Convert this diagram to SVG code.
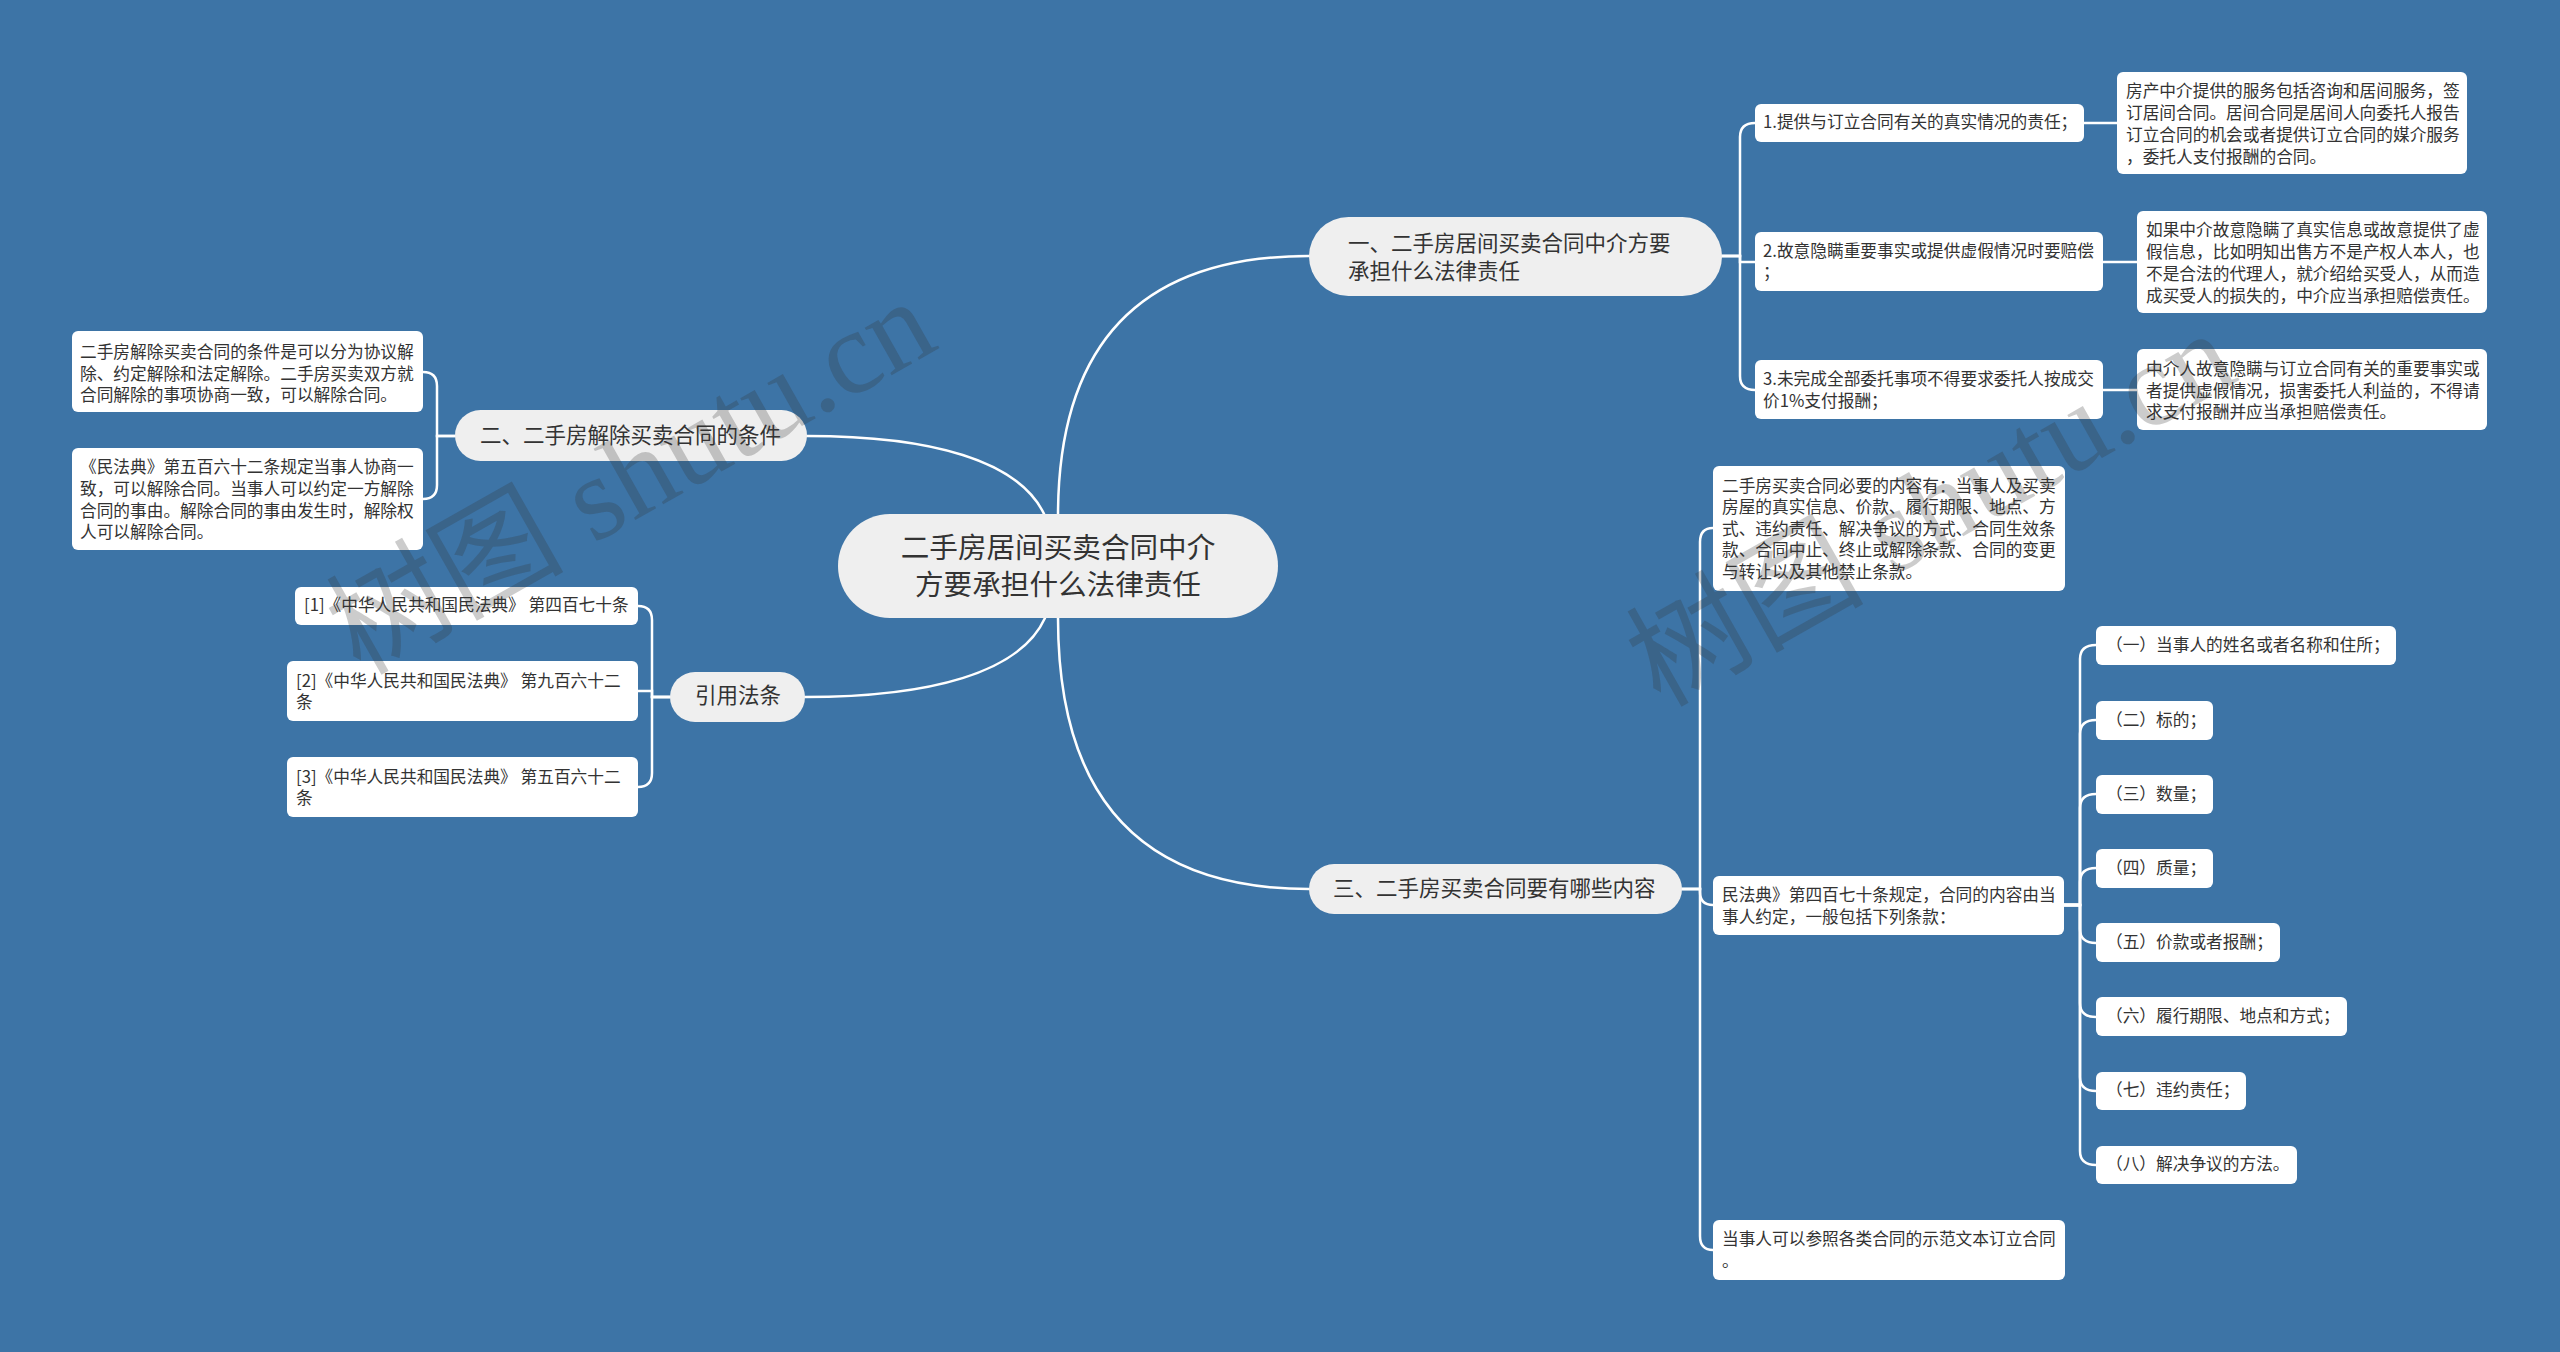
<svg xmlns="http://www.w3.org/2000/svg" width="2560" height="1352" viewBox="0 0 2560 1352">
<style>
  .t { font-family: "Noto Sans CJK SC", "Noto Sans", sans-serif; fill: #333333; dominant-baseline: central; }
  .leaf { fill: #ffffff; }
  .main { fill: #efefef; }
  .s { font-size: 16.7px; }
  .m { font-size: 21.5px; }
  .c { font-size: 28.6px; }
  .wm { font-family: "Liberation Serif", "Noto Sans CJK SC", serif; font-size: 119px; fill: #333333; fill-opacity: 0.25; }
  .ln { fill: none; stroke: #ffffff; stroke-width: 2.5; stroke-linecap: round; }
</style>
<rect x="0" y="0" width="2560" height="1352" fill="#3d74a6"/>

<g id="connectors">
  <path class="ln" d="M 1058 516 Q 1058 256 1309 256"/>
  <path class="ln" d="M 1045 516 C 1020 460 930 436 807 436"/>
  <path class="ln" d="M 1045 618 C 1020 673 930 697 805 697"/>
  <path class="ln" d="M 1058 618 Q 1058 889 1309 889"/>
  <path class="ln" d="M 1722 256 H 1740 V 137 Q 1740 123 1755 123"/>
  <path class="ln" d="M 1722 256 H 1740 V 262 H 1755"/>
  <path class="ln" d="M 1722 256 H 1740 V 376 Q 1740 390 1755 390"/>
  <path class="ln" d="M 2084 123 H 2117"/>
  <path class="ln" d="M 2103 262 H 2137"/>
  <path class="ln" d="M 2103 390 H 2137"/>
  <path class="ln" d="M 455 436 H 437 V 386 Q 437 372 423 372"/>
  <path class="ln" d="M 455 436 H 437 V 485 Q 437 499 423 499"/>
  <path class="ln" d="M 670 697 H 652 V 620 Q 652 606 638 606"/>
  <path class="ln" d="M 670 697 H 652 V 691 H 638"/>
  <path class="ln" d="M 670 697 H 652 V 773 Q 652 787 638 787"/>
  <path class="ln" d="M 1682 889 H 1700 V 542 Q 1700 528 1713 528"/>
  <path class="ln" d="M 1682 889 H 1700 V 892 Q 1700 905 1713 905"/>
  <path class="ln" d="M 1682 889 H 1700 V 1236 Q 1700 1250 1713 1250"/>
  <path class="ln" d="M 2064 905 H 2080 V 659 Q 2080 645 2096 645"/>
  <path class="ln" d="M 2064 905 H 2080 V 734 Q 2080 720 2096 720"/>
  <path class="ln" d="M 2064 905 H 2080 V 808 Q 2080 794 2096 794"/>
  <path class="ln" d="M 2064 905 H 2080 V 882 Q 2080 868 2096 868"/>
  <path class="ln" d="M 2064 905 H 2080 V 929 Q 2080 943 2096 943"/>
  <path class="ln" d="M 2064 905 H 2080 V 1003 Q 2080 1017 2096 1017"/>
  <path class="ln" d="M 2064 905 H 2080 V 1077 Q 2080 1091 2096 1091"/>
  <path class="ln" d="M 2064 905 H 2080 V 1151 Q 2080 1165 2096 1165"/>
</g>

<g id="central">
  <rect class="main" x="838" y="514" width="440" height="104" rx="52"/>
  <text class="t c" x="1058" y="545" text-anchor="middle">二手房居间买卖合同中介</text>
  <text class="t c" x="1058" y="582" text-anchor="middle">方要承担什么法律责任</text>
</g>

<g id="branch1">
  <rect class="main" x="1309" y="217" width="413" height="79" rx="39.5"/>
  <text class="t m" x="1348" y="241.5">一、二手房居间买卖合同中介方要</text>
  <text class="t m" x="1348" y="269.5">承担什么法律责任</text>
</g>
<g id="b1c1">
  <rect class="leaf" x="1755" y="104" width="329" height="38" rx="6"/>
  <text class="t s" x="1763" y="121">1.提供与订立合同有关的真实情况的责任；</text>
</g>
<g id="b1c2">
  <rect class="leaf" x="1755" y="232" width="348" height="59" rx="6"/>
  <text class="t s" x="1763" y="250">2.故意隐瞒重要事实或提供虚假情况时要赔偿</text>
  <text class="t s" x="1763" y="271">；</text>
</g>
<g id="b1c3">
  <rect class="leaf" x="1755" y="360" width="348" height="59" rx="6"/>
  <text class="t s" x="1763" y="378">3.未完成全部委托事项不得要求委托人按成交</text>
  <text class="t s" x="1763" y="400">价1%支付报酬；</text>
</g>
<g id="b1d1">
  <rect class="leaf" x="2117" y="72" width="350" height="102" rx="6"/>
  <text class="t s" x="2126" y="90">房产中介提供的服务包括咨询和居间服务，签</text>
  <text class="t s" x="2126" y="112">订居间合同。居间合同是居间人向委托人报告</text>
  <text class="t s" x="2126" y="134">订立合同的机会或者提供订立合同的媒介服务</text>
  <text class="t s" x="2126" y="156">，委托人支付报酬的合同。</text>
</g>
<g id="b1d2">
  <rect class="leaf" x="2137" y="211" width="350" height="102" rx="6"/>
  <text class="t s" x="2146" y="229">如果中介故意隐瞒了真实信息或故意提供了虚</text>
  <text class="t s" x="2146" y="251">假信息，比如明知出售方不是产权人本人，也</text>
  <text class="t s" x="2146" y="273">不是合法的代理人，就介绍给买受人，从而造</text>
  <text class="t s" x="2146" y="295">成买受人的损失的，中介应当承担赔偿责任。</text>
</g>
<g id="b1d3">
  <rect class="leaf" x="2137" y="349" width="350" height="81" rx="6"/>
  <text class="t s" x="2146" y="368">中介人故意隐瞒与订立合同有关的重要事实或</text>
  <text class="t s" x="2146" y="390">者提供虚假情况，损害委托人利益的，不得请</text>
  <text class="t s" x="2146" y="411">求支付报酬并应当承担赔偿责任。</text>
</g>

<g id="branch2">
  <rect class="main" x="455" y="410" width="352" height="51" rx="25.5"/>
  <text class="t m" x="480" y="433.5">二、二手房解除买卖合同的条件</text>
</g>
<g id="b2c1">
  <rect class="leaf" x="72" y="331" width="351" height="81" rx="6"/>
  <text class="t s" x="80" y="351">二手房解除买卖合同的条件是可以分为协议解</text>
  <text class="t s" x="80" y="373">除、约定解除和法定解除。二手房买卖双方就</text>
  <text class="t s" x="80" y="394">合同解除的事项协商一致，可以解除合同。</text>
</g>
<g id="b2c2">
  <rect class="leaf" x="72" y="448" width="351" height="102" rx="6"/>
  <text class="t s" x="80" y="466">《民法典》第五百六十二条规定当事人协商一</text>
  <text class="t s" x="80" y="488">致，可以解除合同。当事人可以约定一方解除</text>
  <text class="t s" x="80" y="510">合同的事由。解除合同的事由发生时，解除权</text>
  <text class="t s" x="80" y="531">人可以解除合同。</text>
</g>

<g id="branch3">
  <rect class="main" x="670" y="672" width="135" height="50" rx="25"/>
  <text class="t m" x="738" y="693.5" text-anchor="middle">引用法条</text>
</g>
<g id="b3c1">
  <rect class="leaf" x="295" y="587" width="343" height="38" rx="6"/>
  <text class="t s" x="304" y="604">[1]《中华人民共和国民法典》 第四百七十条</text>
</g>
<g id="b3c2">
  <rect class="leaf" x="287" y="661" width="351" height="60" rx="6"/>
  <text class="t s" x="296" y="680">[2]《中华人民共和国民法典》 第九百六十二</text>
  <text class="t s" x="296" y="701">条</text>
</g>
<g id="b3c3">
  <rect class="leaf" x="287" y="757" width="351" height="60" rx="6"/>
  <text class="t s" x="296" y="776">[3]《中华人民共和国民法典》 第五百六十二</text>
  <text class="t s" x="296" y="797">条</text>
</g>

<g id="branch4">
  <rect class="main" x="1309" y="864" width="373" height="50" rx="25"/>
  <text class="t m" x="1333" y="886.5">三、二手房买卖合同要有哪些内容</text>
</g>
<g id="b4c1">
  <rect class="leaf" x="1713" y="466" width="352" height="125" rx="6"/>
  <text class="t s" x="1722" y="485">二手房买卖合同必要的内容有：当事人及买卖</text>
  <text class="t s" x="1722" y="506">房屋的真实信息、价款、履行期限、地点、方</text>
  <text class="t s" x="1722" y="528">式、违约责任、解决争议的方式、合同生效条</text>
  <text class="t s" x="1722" y="549">款、合同中止、终止或解除条款、合同的变更</text>
  <text class="t s" x="1722" y="571">与转让以及其他禁止条款。</text>
</g>
<g id="b4c2">
  <rect class="leaf" x="1713" y="876" width="351" height="59" rx="6"/>
  <text class="t s" x="1722" y="894">民法典》第四百七十条规定，合同的内容由当</text>
  <text class="t s" x="1722" y="916">事人约定，一般包括下列条款：</text>
</g>
<g id="b4c3">
  <rect class="leaf" x="1713" y="1220" width="352" height="60" rx="6"/>
  <text class="t s" x="1722" y="1238">当事人可以参照各类合同的示范文本订立合同</text>
  <text class="t s" x="1722" y="1260">。</text>
</g>
<g id="item1"><rect class="leaf" x="2096" y="626" width="300" height="39" rx="6"/><text class="t s" x="2106" y="643.5">（一）当事人的姓名或者名称和住所；</text></g>
<g id="item2"><rect class="leaf" x="2096" y="701" width="117" height="39" rx="6"/><text class="t s" x="2106" y="718.5">（二）标的；</text></g>
<g id="item3"><rect class="leaf" x="2096" y="775" width="117" height="39" rx="6"/><text class="t s" x="2106" y="792.5">（三）数量；</text></g>
<g id="item4"><rect class="leaf" x="2096" y="849" width="117" height="39" rx="6"/><text class="t s" x="2106" y="866.5">（四）质量；</text></g>
<g id="item5"><rect class="leaf" x="2096" y="923" width="184" height="39" rx="6"/><text class="t s" x="2106" y="940.5">（五）价款或者报酬；</text></g>
<g id="item6"><rect class="leaf" x="2096" y="997" width="251" height="39" rx="6"/><text class="t s" x="2106" y="1014.5">（六）履行期限、地点和方式；</text></g>
<g id="item7"><rect class="leaf" x="2096" y="1072" width="150" height="38" rx="6"/><text class="t s" x="2106" y="1089">（七）违约责任；</text></g>
<g id="item8"><rect class="leaf" x="2096" y="1146" width="201" height="38" rx="6"/><text class="t s" x="2106" y="1163">（八）解决争议的方法。</text></g>

<g id="watermarks">
  <text class="wm" transform="translate(360,676) rotate(-29.5)">树图 shutu.cn</text>
  <text class="wm" transform="translate(1660,708) rotate(-29.5)">树图 shutu.cn</text>
</g>
</svg>
